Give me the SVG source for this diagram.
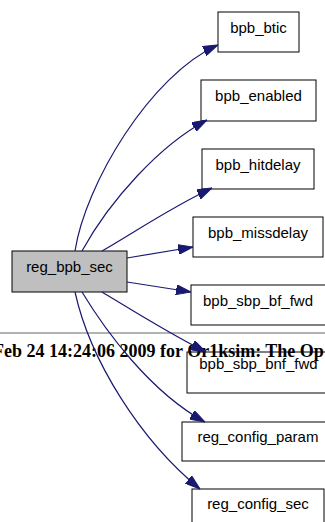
<svg xmlns="http://www.w3.org/2000/svg" width="325" height="522" viewBox="0 0 325 522">
<style>
.node rect{fill:#ffffff;stroke:#000000;stroke-width:1}
.node text{font-family:"Liberation Sans",Arial,sans-serif;font-size:15px;fill:#000000;text-anchor:middle}
.edge{fill:none;stroke:#191970;stroke-width:1.2;marker-end:url(#arrow)}
.footer{font-family:"Liberation Serif","Times New Roman",serif;font-weight:bold;font-size:18px;fill:#000000}
</style>
<defs>
<marker id="arrow" viewBox="0 0 15 10" refX="15" refY="5" markerWidth="15" markerHeight="10" markerUnits="userSpaceOnUse" orient="auto">
<path d="M0,0 L15,5 L0,10 z" fill="#191970" stroke="#191970"/>
</marker>
</defs>
<rect width="325" height="522" fill="#ffffff"/>
<g id="nodes">
<g id="node_reg_bpb_sec" class="node"><rect x="12" y="251" width="115" height="41" style="fill:#bfbfbf"/><text x="69.5" y="272">reg_bpb_sec</text></g>
<g id="node_bpb_btic" class="node"><rect x="218" y="12" width="81" height="40"/><text x="258.5" y="33">bpb_btic</text></g>
<g id="node_bpb_enabled" class="node"><rect x="201" y="80" width="115" height="41"/><text x="258.5" y="101">bpb_enabled</text></g>
<g id="node_bpb_hitdelay" class="node"><rect x="202" y="149" width="112" height="40"/><text x="258" y="170">bpb_hitdelay</text></g>
<g id="node_bpb_missdelay" class="node"><rect x="193" y="217" width="130" height="40"/><text x="258" y="238">bpb_missdelay</text></g>
<g id="node_bpb_sbp_bf_fwd" class="node"><rect x="191" y="285" width="140" height="40"/><text x="258" y="306">bpb_sbp_bf_fwd</text></g>
<g id="node_bpb_sbp_bnf_fwd" class="node"><rect x="187" y="352" width="143" height="41"/><text x="258.5" y="369">bpb_sbp_bnf_fwd</text></g>
<g id="node_reg_config_param" class="node"><rect x="182" y="422" width="152" height="39"/><text x="258" y="442">reg_config_param</text></g>
<g id="node_reg_config_sec" class="node"><rect x="192" y="489" width="132" height="40"/><text x="258" y="509">reg_config_sec</text></g>
</g>
<g id="footer">
<line x1="0" y1="333" x2="325" y2="333" stroke="#666666" stroke-width="1"/>
<text class="footer" x="-7" y="357">Feb 24 14:24:06 2009 for Or1ksim: The Op</text>
</g>
<g id="edges">
<path class="edge" d="M75,251 C85,185 150,75 218,45"/>
<path class="edge" d="M82,251 C110,200 160,145 207,120"/>
<path class="edge" d="M102,251 C135,232 170,208 212,188"/>
<path class="edge" d="M127,258 L193,247"/>
<path class="edge" d="M127,282 L191,292"/>
<path class="edge" d="M102,292 C135,312 170,334 206,352"/>
<path class="edge" d="M82,292 C105,330 150,392 205,422"/>
<path class="edge" d="M75,292 C90,360 140,440 200,489"/>
</g>
</svg>
